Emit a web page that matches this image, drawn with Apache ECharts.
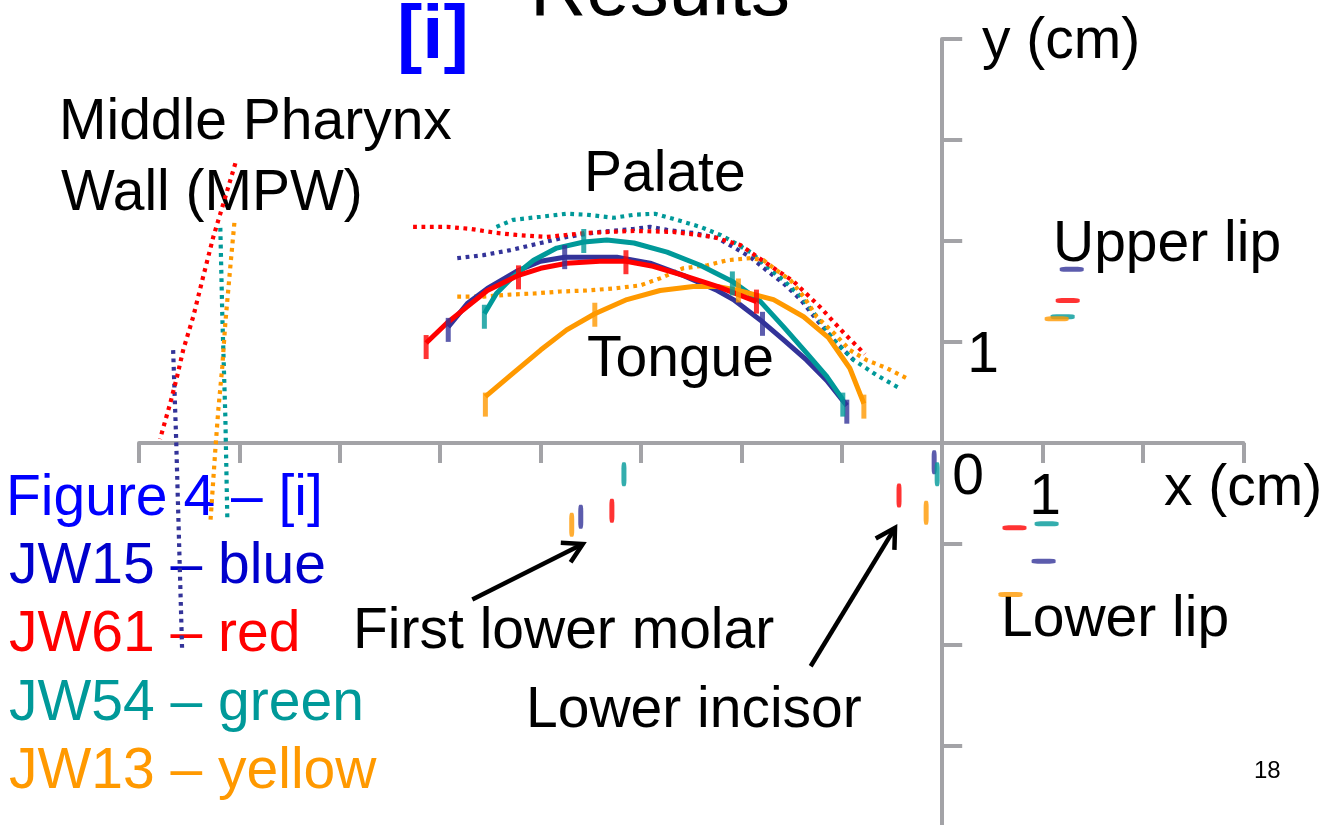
<!DOCTYPE html>
<html><head><meta charset="utf-8">
<script src="https://cdn.jsdelivr.net/npm/echarts@6/dist/echarts.min.js"></script>
<style>html,body{margin:0;padding:0;background:#fff}#c{width:1335px;height:825px}</style>
</head><body><div id="c"></div><script>
// ---------- data (cm) ----------
const subjects = ['JW15', 'JW61', 'JW54', 'JW13'];

const palateJW15 = [[-4.83,1.83],[-4.57,1.86],[-4.30,1.91],[-4.00,1.98],[-3.74,2.04],[-3.41,2.09],[-3.07,2.12],[-2.91,2.14],[-2.74,2.11],[-2.48,2.08],[-2.24,2.03],[-2.08,1.94],[-1.91,1.84],[-1.75,1.71],[-1.58,1.58],[-1.41,1.42],[-1.25,1.22],[-1.08,1.02],[-0.88,0.82]];
const palateJW61 = [[-5.27,2.14],[-4.93,2.14],[-4.70,2.12],[-4.44,2.08],[-4.24,2.06],[-3.94,2.04],[-3.54,2.08],[-3.07,2.10],[-2.68,2.09],[-2.28,2.04],[-2.01,1.96],[-1.75,1.78],[-1.48,1.60],[-1.22,1.35],[-0.98,1.09],[-0.77,0.88]];
const palateJW54 = [[-4.44,2.14],[-4.27,2.21],[-4.00,2.24],[-3.74,2.27],[-3.54,2.26],[-3.27,2.23],[-3.07,2.26],[-2.86,2.27],[-2.68,2.22],[-2.41,2.14],[-2.21,2.06],[-2.08,1.99],[-1.91,1.89],[-1.75,1.75],[-1.58,1.61],[-1.41,1.45],[-1.25,1.25],[-1.08,1.02],[-0.88,0.82],[-0.65,0.67],[-0.42,0.54]];
const palateJW13 = [[-4.83,1.45],[-4.57,1.45],[-4.30,1.47],[-4.07,1.48],[-3.80,1.50],[-3.54,1.51],[-3.27,1.53],[-3.01,1.56],[-2.81,1.63],[-2.58,1.73],[-2.34,1.76],[-2.14,1.81],[-1.91,1.83],[-1.78,1.81],[-1.65,1.71],[-1.51,1.61],[-1.38,1.45],[-1.25,1.25],[-1.08,1.09],[-0.92,0.92],[-0.75,0.82],[-0.55,0.74],[-0.35,0.64]];

const tongueJW15 = [[-4.92,1.15],[-4.73,1.38],[-4.53,1.53],[-4.24,1.70],[-4.00,1.80],[-3.76,1.84],[-3.54,1.84],[-3.24,1.84],[-2.91,1.78],[-2.58,1.66],[-2.24,1.51],[-2.08,1.42],[-1.79,1.20],[-1.58,1.02],[-1.35,0.82],[-1.15,0.62],[-0.95,0.37]];
const tongueJW61 = [[-5.14,0.99],[-4.93,1.19],[-4.73,1.35],[-4.53,1.51],[-4.22,1.66],[-4.00,1.73],[-3.74,1.78],[-3.41,1.80],[-3.15,1.80],[-2.88,1.75],[-2.58,1.66],[-2.24,1.55],[-1.85,1.40]];
const tongueJW54 = [[-4.56,1.28],[-4.44,1.48],[-4.27,1.65],[-4.07,1.81],[-3.84,1.93],[-3.57,1.99],[-3.34,2.01],[-3.07,1.98],[-2.74,1.89],[-2.41,1.76],[-2.09,1.60],[-1.81,1.40],[-1.58,1.15],[-1.35,0.89],[-1.15,0.66],[-0.99,0.43]];
const tongueJW13 = [[-4.55,0.46],[-4.30,0.67],[-4.00,0.92],[-3.74,1.12],[-3.46,1.28],[-3.14,1.42],[-2.81,1.51],[-2.48,1.55],[-2.24,1.55],[-2.03,1.51],[-1.68,1.42],[-1.38,1.25],[-1.13,1.04],[-0.92,0.74],[-0.78,0.39]];

const ticksJW15 = [[-4.92,1.12],[-3.76,1.84],[-1.79,1.18],[-0.95,0.31]];
const ticksJW61 = [[-5.14,0.95],[-4.22,1.64],[-3.15,1.79],[-1.85,1.40]];
const ticksJW54 = [[-4.56,1.25],[-3.57,2.00],[-2.09,1.58],[-0.99,0.38]];
const ticksJW13 = [[-4.55,0.38],[-3.46,1.27],[-2.03,1.51],[-0.78,0.36]];

const mpwJW15 = [[-7.66,0.92],[-7.63,0.04],[-7.57,-2.07]];
const mpwJW61 = [[-7.04,2.77],[-7.16,2.37],[-7.26,2.04],[-7.36,1.65],[-7.46,1.25],[-7.56,0.92],[-7.62,0.66],[-7.69,0.39],[-7.79,0.04]];
const mpwJW54 = [[-7.19,2.13],[-7.17,1.25],[-7.14,0.26],[-7.12,-0.76]];
const mpwJW13 = [[-7.05,2.18],[-7.09,1.75],[-7.14,1.19],[-7.17,0.76],[-7.21,0.33],[-7.24,-0.07],[-7.29,-0.80]];

// first lower molar, lower incisor  (order: JW15, JW61, JW54, JW13)
const molar   = [[-3.60,-0.73],[-3.29,-0.67],[-3.17,-0.31],[-3.69,-0.81]];
const incisor = [[-0.08,-0.19],[-0.43,-0.52],[-0.05,-0.31],[-0.16,-0.69]];
const upperLip = [[1.29,1.72],[1.25,1.41],[1.20,1.25],[1.14,1.23]];
const lowerLip = [[1.01,-1.17],[0.72,-0.84],[1.04,-0.80],[0.68,-1.50]];

const molarArrow   = [[-4.68,-1.55],[-3.58,-1.00]];
const incisorArrow = [[-1.31,-2.21],[-0.47,-0.84]];

const legendLines = ['Figure 4 – [i]', 'JW15 – blue', 'JW61 – red', 'JW54 – green', 'JW13 – yellow'];

// ---------- styling ----------
const colors = {JW15:'#333399', JW61:'#FF0000', JW54:'#009999', JW13:'#FF9900'};
const textColors = ['#0000FF', '#0000CC', '#FF0000', '#009999', '#FF9900'];
const AXIS = '#A3A3A7';
const FONT = "'Liberation Sans', Arial, sans-serif";

const palates = {JW15:palateJW15, JW61:palateJW61, JW54:palateJW54, JW13:palateJW13};
const tongues = {JW15:tongueJW15, JW61:tongueJW61, JW54:tongueJW54, JW13:tongueJW13};
const ticks = {JW15:ticksJW15, JW61:ticksJW61, JW54:ticksJW54, JW13:ticksJW13};
const mpws = {JW15:mpwJW15, JW61:mpwJW61, JW54:mpwJW54, JW13:mpwJW13};

const drawOrder = ['JW15', 'JW54', 'JW13', 'JW61'];
const series = [];
const dotted = c => ({color:c, width:4.2, type:[3.8,4.6]});
drawOrder.forEach(s => {
  const c = colors[s];
  series.push({type:'line', name:s+' palate', data:palates[s], showSymbol:false, symbol:'none', lineStyle:dotted(c), z:2});
  series.push({type:'line', name:s+' MPW', data:mpws[s], showSymbol:false, symbol:'none', lineStyle:dotted(c), z:2});
});
drawOrder.forEach(s => {
  const c = colors[s];
  const i = subjects.indexOf(s);
  series.push({type:'line', name:s+' tongue', data:tongues[s], showSymbol:false, symbol:'none', lineStyle:{color:c, width:5}, z:3});
  series.push({type:'scatter', name:s+' tongue ticks', data:ticks[s], symbol:'rect', symbolSize:[5,24], itemStyle:{color:c}, z:4});
  series.push({type:'scatter', name:s+' teeth', data:[molar[i], incisor[i]], symbol:'roundRect', symbolSize:[5,24], itemStyle:{color:c}, z:4});
});
drawOrder.forEach(s => {
  const c = colors[s];
  const i = subjects.indexOf(s);
  series.push({type:'scatter', name:s+' lips', data:[upperLip[i], lowerLip[i]], symbol:'roundRect', symbolSize:[24,5], itemStyle:{color:c}, z:4});
});

function txt(text, x, y, color, size, align, weight) {
  return {type:'text', x:x, y:y, z:-1, silent:true,
    style:{text:text, fill:color, font:(weight||'normal')+' '+size+'px '+FONT,
      align:align||'left', verticalAlign:'middle', textAlign:align||'left', textVerticalAlign:'middle'}};
}

const texts = [
  txt('Results', 530, -7, '#000', 78),
  txt('[i]', 397, 37, '#0000FF', 76, 'left', 'bold'),
  txt('Middle Pharynx', 59, 123, '#000', 57),
  txt('Wall (MPW)', 61, 194, '#000', 57),
  txt('Palate', 584, 175, '#000', 57),
  txt('Tongue', 587, 360, '#000', 57),
  txt('Upper lip', 1053, 245, '#000', 57),
  txt('Lower lip', 1001, 620, '#000', 57),
  txt('First lower molar', 353, 632, '#000', 57),
  txt('Lower incisor', 526, 711, '#000', 57),
  txt('y (cm)', 982, 42, '#000', 57),
  txt('x (cm)', 1164, 489, '#000', 57),
  txt('0', 968, 478, '#000', 57, 'center'),
  txt('1', 1045, 498, '#000', 57, 'center'),
  txt('1', 983, 356, '#000', 57, 'center'),
  txt('18', 1254, 771, '#000', 24)
];
const legendY = [499, 567, 635, 704, 772];
legendLines.forEach((t, k) => texts.push(txt(t, k === 0 ? 6 : 9, legendY[k], textColors[k], 57)));

const chart = echarts.init(document.getElementById('c'), null, {renderer:'canvas'});
const option = {
  animation:false,
  backgroundColor:'#fff',
  grid:{left:139, width:1104.4, top:39, height:808, containLabel:false, outerBoundsMode:'none'},
  xAxis:{type:'value', min:-8, max:3, interval:1,
    axisLine:{onZero:true, lineStyle:{color:AXIS, width:4}},
    axisTick:{show:true, inside:false, length:20, lineStyle:{color:AXIS, width:4}},
    axisLabel:{show:false}, splitLine:{show:false}},
  yAxis:{type:'value', min:-4, max:4, interval:1,
    axisLine:{onZero:true, lineStyle:{color:AXIS, width:4}},
    axisTick:{show:true, inside:true, length:20, lineStyle:{color:AXIS, width:4}},
    axisLabel:{show:false}, splitLine:{show:false}},
  series:series,
  graphic:texts
};
chart.setOption(option);

function arrow(pair) {
  const p1 = chart.convertToPixel({gridIndex:0}, pair[0]);
  const p2 = chart.convertToPixel({gridIndex:0}, pair[1]);
  const ang = Math.atan2(p2[1]-p1[1], p2[0]-p1[0]);
  const L = 22, a = 0.52;
  const h1 = [p2[0]-L*Math.cos(ang-a), p2[1]-L*Math.sin(ang-a)];
  const h2 = [p2[0]-L*Math.cos(ang+a), p2[1]-L*Math.sin(ang+a)];
  return [
    {type:'polyline', z:10, shape:{points:[p1, p2]}, style:{stroke:'#000', lineWidth:4.5, fill:null}},
    {type:'polyline', z:10, shape:{points:[h1, p2, h2]}, style:{stroke:'#000', lineWidth:4.5, fill:null, lineJoin:'miter'}}
  ];
}
chart.setOption({graphic: texts.concat(arrow(molarArrow), arrow(incisorArrow))}, {replaceMerge:['graphic']});
</script></body></html>
